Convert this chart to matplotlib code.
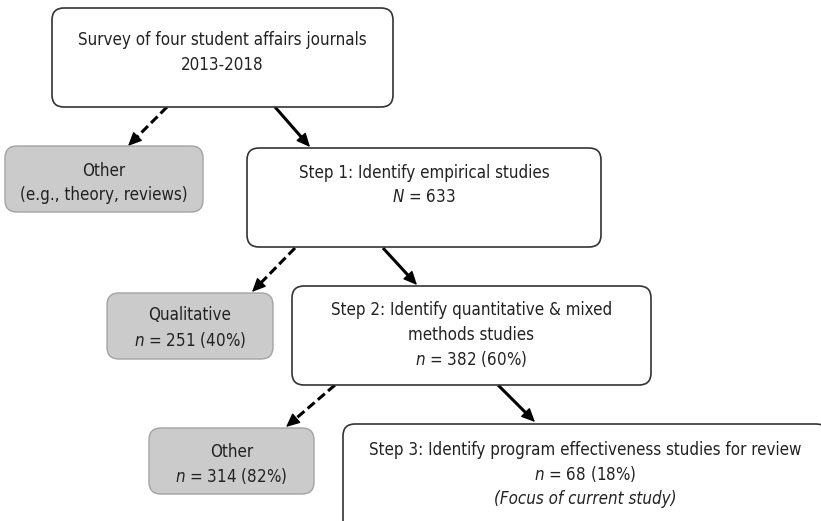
import numpy as np
import matplotlib
matplotlib.use("Agg")
import matplotlib.pyplot as plt
from matplotlib import font_manager
from matplotlib.patches import FancyBboxPatch

# pick a narrow sans font (Arial Narrow look-alike) if it is installed
names = {f.name for f in font_manager.fontManager.ttflist}
if "Liberation Sans Narrow" in names:
    FONT = "Liberation Sans Narrow"
else:
    FONT = "DejaVu Sans"
plt.rcParams["font.family"] = [FONT, "DejaVu Sans"]
plt.rcParams["font.stretch"] = "condensed"
plt.rcParams["mathtext.fontset"] = "custom"
plt.rcParams["mathtext.rm"] = FONT
plt.rcParams["mathtext.it"] = FONT + ":italic"

# %% data
main_titles = [
    ["Survey of four student affairs journals", "2013-2018"],
    ["Step 1: Identify empirical studies"],
    ["Step 2: Identify quantitative & mixed", "methods studies"],
    ["Step 3: Identify program effectiveness studies for review"],
]
main_counts = [None, 633, 382, 68]
main_pcts = [None, None, 60, 18]
main_notes = [None, None, None, "(Focus of current study)"]

excl_titles = [["Other", "(e.g., theory, reviews)"], ["Qualitative"], ["Other"]]
excl_counts = [None, 251, 314]
excl_pcts = [None, 40, 82]

# %% layout (pixels, y down): x0, y0, x1, y1
main_boxes = [(52, 8, 393, 107), (247, 148, 601, 247),
              (292, 286, 651, 385), (343, 424, 828, 535)]
main_first_line = [40, 173, 310, 450]
excl_boxes = [(5, 146, 203, 212), (107, 293, 273, 359), (149, 428, 314, 494)]
excl_first_line = [171, 315, 452]
# arrows: (start, tip, dashed)
arrows = [((167, 107), (128, 146), True), ((275, 107), (310, 147), False),
          ((295, 248), (252, 292), True), ((383, 248), (417, 285), False),
          ((335, 385), (286, 427), True), ((498, 385), (535, 422), False)]

W, H = 821, 521
fig = plt.figure(figsize=(W / 100, H / 100), dpi=100)
ax = fig.add_axes([0, 0, 1, 1])
ax.set_xlim(0, W)
ax.set_ylim(H, 0)
ax.axis("off")

FS = 12.2
GAP = 24.5


def count_line(sym, n, pct):
    s = r"$\mathit{%s}$ = %d" % (sym, n)
    if pct is not None:
        s += " (%d%%)" % pct
    return s


def draw_box(box, lines, first_y, gray):
    x0, y0, x1, y1 = box
    if gray:
        fc, ec, lw = "#cbcbcb", "#a3a3a3", 1.0
    else:
        fc, ec, lw = "white", "#333333", 1.2
    p = FancyBboxPatch((x0, y0), x1 - x0, y1 - y0,
                       boxstyle="round,pad=0,rounding_size=12",
                       fc=fc, ec=ec, lw=lw, zorder=2)
    ax.add_patch(p)
    cx = (x0 + x1) / 2
    for i, (txt, style) in enumerate(lines):
        ax.text(cx, first_y + i * GAP, txt, ha="center", va="center",
                fontsize=FS, style=style, color="#222222", zorder=3)


for i, box in enumerate(main_boxes):
    lines = [(t, "normal") for t in main_titles[i]]
    if main_counts[i] is not None:
        sym = "N" if main_pcts[i] is None else "n"
        lines.append((count_line(sym, main_counts[i], main_pcts[i]), "normal"))
    if main_notes[i]:
        lines.append((main_notes[i], "italic"))
    draw_box(box, lines, main_first_line[i], False)

for i, box in enumerate(excl_boxes):
    lines = [(t, "normal") for t in excl_titles[i]]
    if excl_counts[i] is not None:
        lines.append((count_line("n", excl_counts[i], excl_pcts[i]), "normal"))
    draw_box(box, lines, excl_first_line[i], True)

# arrows: dashed/solid shaft plus solid head
HEAD = 11
for (sx, sy), (tx, ty), dashed in arrows:
    d = np.array([tx - sx, ty - sy], float)
    u = d / np.hypot(*d)
    bx, by = np.array([tx, ty]) - u * HEAD
    ax.plot([sx, bx + u[0] * 2], [sy, by + u[1] * 2], color="black", lw=2.2,
            ls=(0, (3, 1.4)) if dashed else "-", solid_capstyle="butt",
            dash_capstyle="butt", zorder=1)
    ax.annotate("", xy=(tx, ty), xytext=(bx, by),
                arrowprops=dict(arrowstyle="-|>,head_length=0.7,head_width=0.32",
                                color="black", lw=1.0, mutation_scale=12,
                                shrinkA=0, shrinkB=0), zorder=1)

fig.savefig("out.png", dpi=100)
